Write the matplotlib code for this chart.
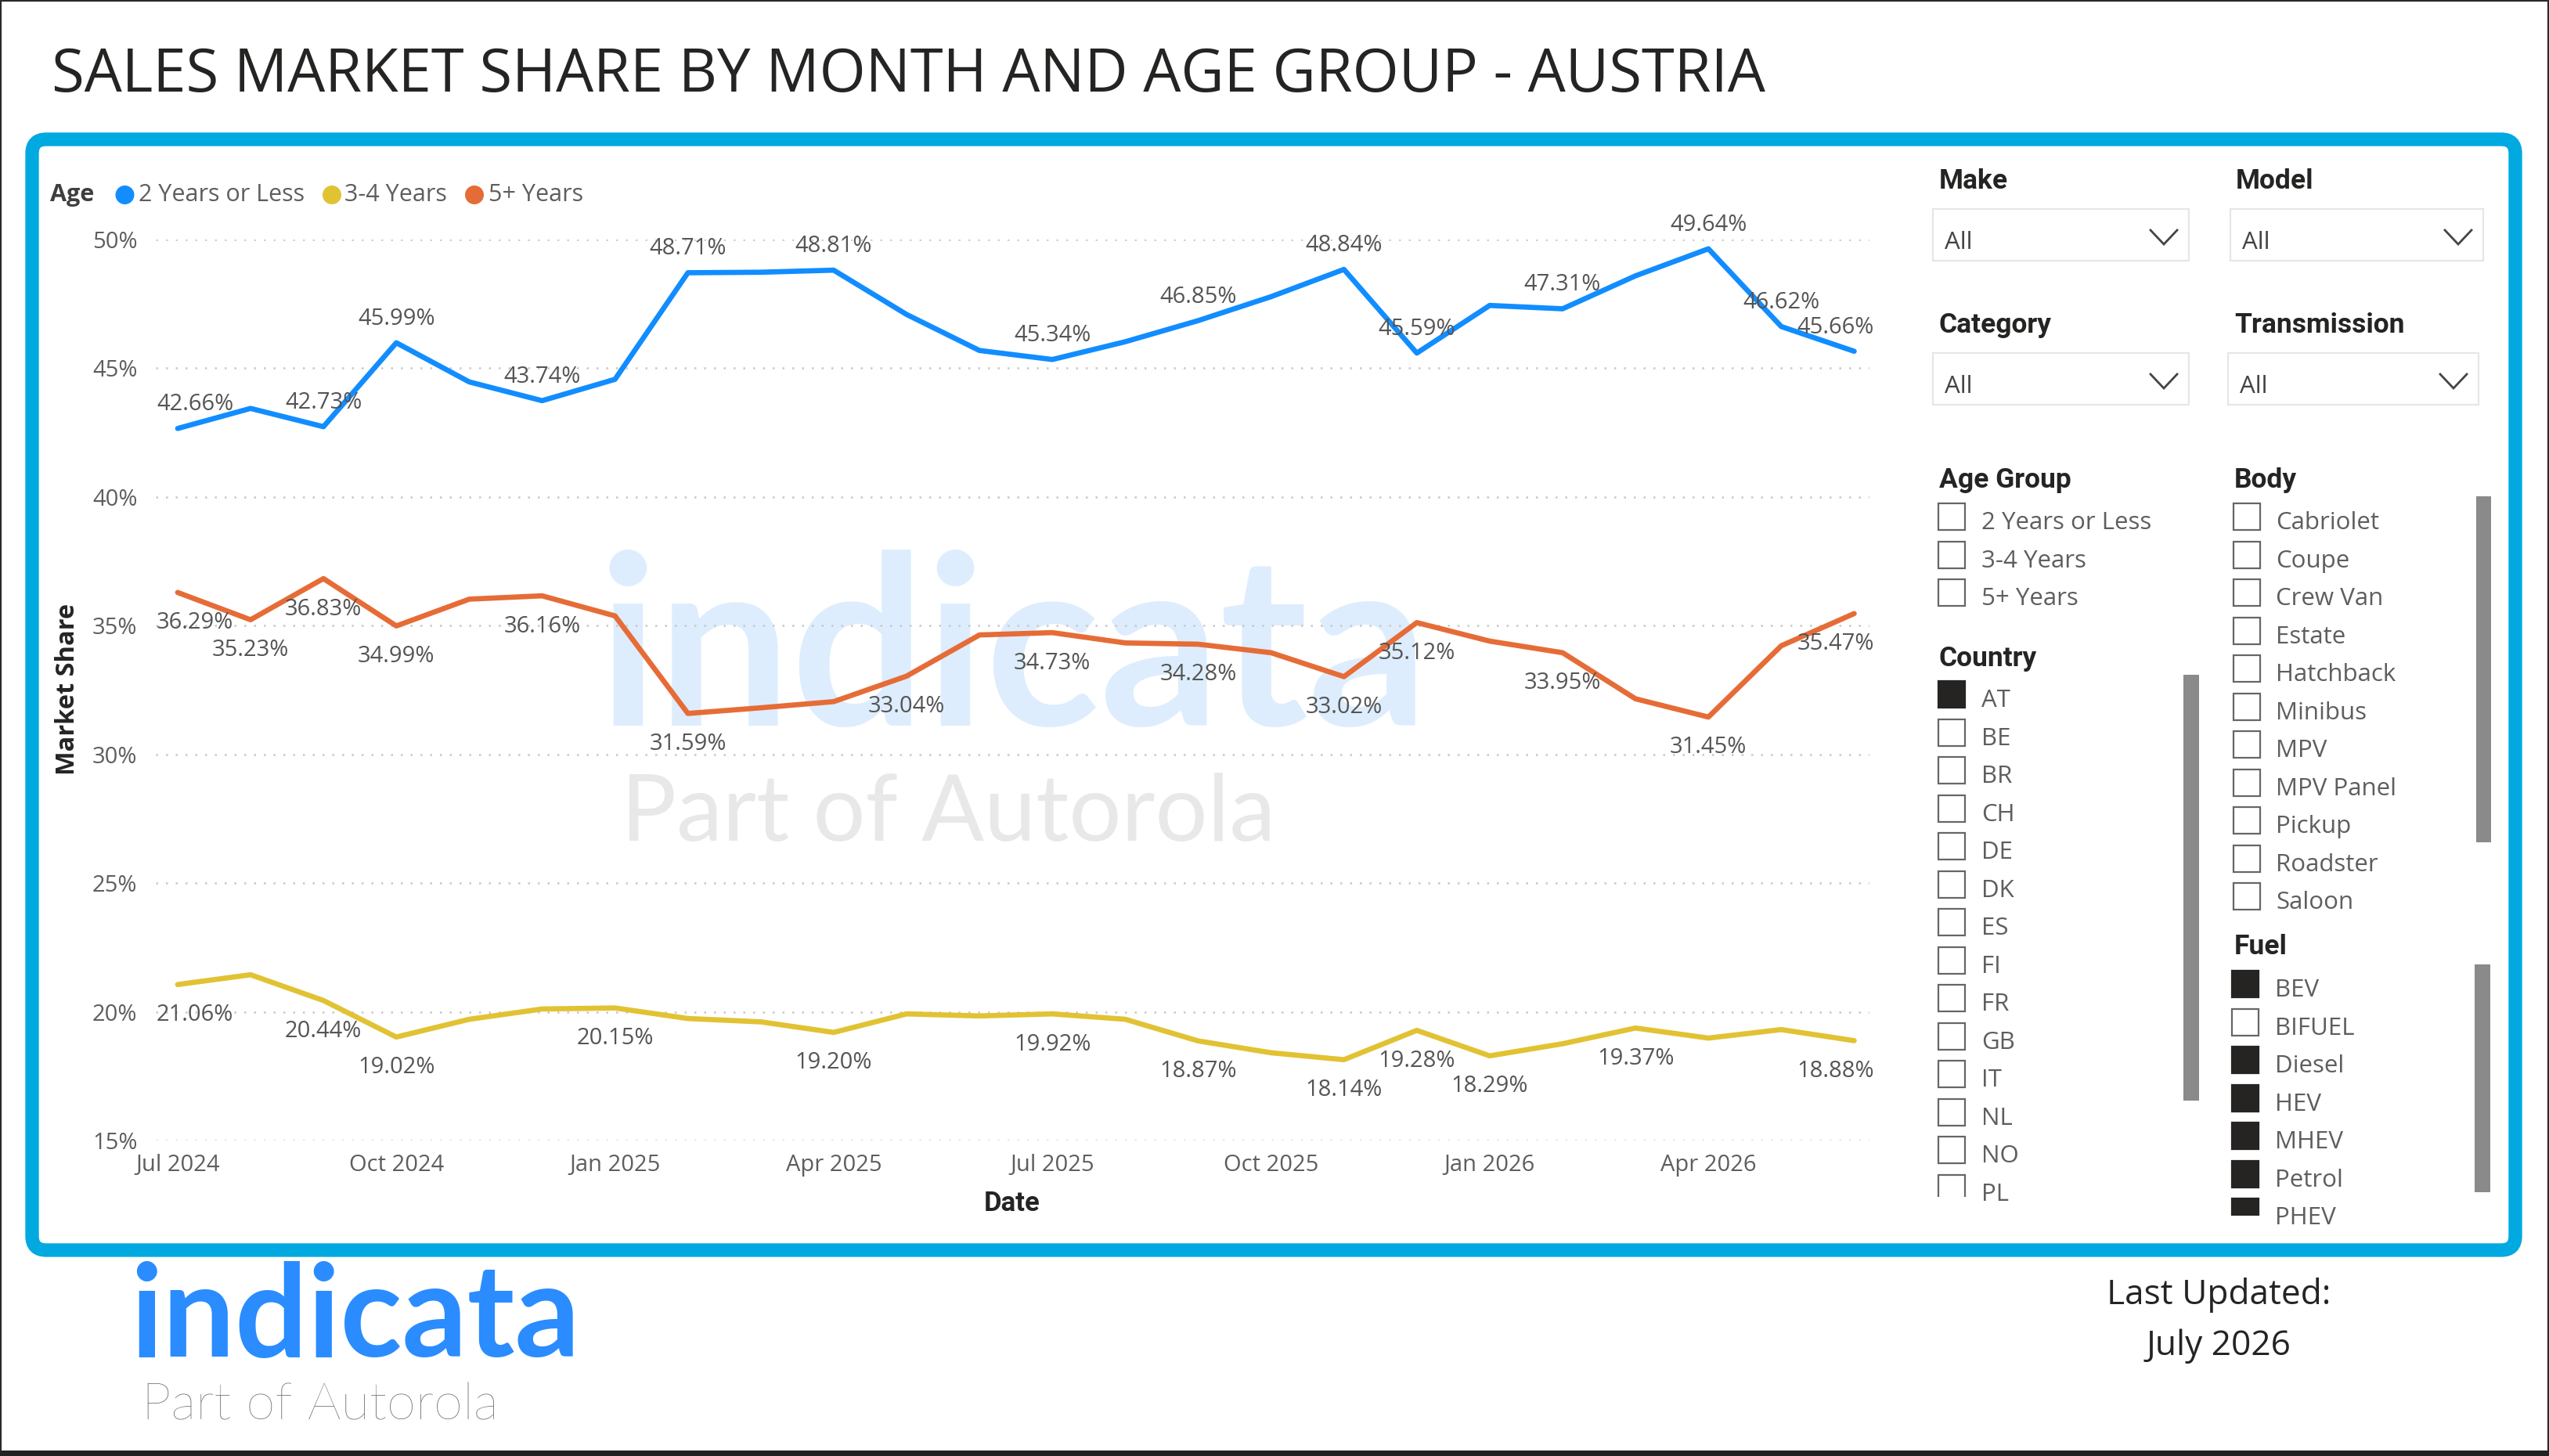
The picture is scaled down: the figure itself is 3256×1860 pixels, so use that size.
import matplotlib
matplotlib.use("Agg")
import matplotlib.pyplot as plt
from matplotlib.patches import FancyBboxPatch, Rectangle, Circle

# ---------------- data ----------------
months = ["Jul 2024", "Aug 2024", "Sep 2024", "Oct 2024", "Nov 2024", "Dec 2024",
          "Jan 2025", "Feb 2025", "Mar 2025", "Apr 2025", "May 2025", "Jun 2025",
          "Jul 2025", "Aug 2025", "Sep 2025", "Oct 2025", "Nov 2025", "Dec 2025",
          "Jan 2026", "Feb 2026", "Mar 2026", "Apr 2026", "May 2026", "Jun 2026"]
x_tick_labels = ["Jul 2024", "Oct 2024", "Jan 2025", "Apr 2025",
                 "Jul 2025", "Oct 2025", "Jan 2026", "Apr 2026"]
y_ticks = [15, 20, 25, 30, 35, 40, 45, 50]
series_names = ["2 Years or Less", "3-4 Years", "5+ Years"]
series_colors = ["#118DFF", "#E1C233", "#E66C37"]

share_2y_or_less = [42.66, 43.44, 42.73, 45.99, 44.47, 43.74, 44.57, 48.71, 48.73, 48.81,
                    47.09, 45.69, 45.34, 46.03, 46.85, 47.78, 48.84, 45.59, 47.44, 47.31,
                    48.59, 49.64, 46.62, 45.66]
share_3_4_years = [21.06, 21.44, 20.44, 19.02, 19.71, 20.11, 20.15, 19.74, 19.61, 19.20,
                   19.92, 19.84, 19.92, 19.71, 18.87, 18.41, 18.14, 19.28, 18.29, 18.76,
                   19.37, 18.98, 19.31, 18.88]
share_5plus_years = [36.29, 35.23, 36.83, 34.99, 36.03, 36.16, 35.38, 31.59, 31.81, 32.05,
                     33.04, 34.64, 34.73, 34.33, 34.28, 33.95, 33.02, 35.12, 34.40, 33.95,
                     32.16, 31.45, 34.22, 35.47]

labelled_2y = [0, 2, 3, 5, 7, 9, 12, 14, 16, 17, 19, 21, 22, 23]
labelled_34 = [0, 2, 3, 6, 9, 12, 14, 16, 17, 18, 20, 23]
labelled_5p = [0, 1, 2, 3, 5, 7, 10, 12, 14, 16, 17, 19, 21, 23]

title = "SALES MARKET SHARE BY MONTH AND AGE GROUP - AUSTRIA"
dropdowns = [("Make", "All"), ("Model", "All"), ("Category", "All"), ("Transmission", "All")]
age_items = series_names
country_items = ["AT", "BE", "BR", "CH", "DE", "DK", "ES", "FI", "FR", "GB", "IT", "NL", "NO", "PL"]
country_checked = ["AT"]
body_items = ["Cabriolet", "Coupe", "Crew Van", "Estate", "Hatchback", "Minibus", "MPV",
              "MPV Panel", "Pickup", "Roadster", "Saloon"]
fuel_items = ["BEV", "BIFUEL", "Diesel", "HEV", "MHEV", "Petrol", "PHEV"]
fuel_checked = ["BEV", "Diesel", "HEV", "MHEV", "Petrol", "PHEV"]
last_updated = "July 2026"

# ---------------- figure ----------------
W, H = 3256, 1860
fig = plt.figure(figsize=(W / 100, H / 100), dpi=100)
fig.patch.set_facecolor("white")
bg = fig.add_axes([0, 0, 1, 1], zorder=0)
bg.set_xlim(0, W)
bg.set_ylim(H, 0)
bg.axis("off")
renderer = fig.canvas.get_renderer()

SANS = ["Open Sans", "DejaVu Sans"]
HEAD = ["Roboto", "DejaVu Sans"]
GREY = "#605E5C"
DARK = "#252423"


def fit_width(t, width):
    w = t.get_window_extent(renderer).width
    t.set_fontsize(t.get_fontsize() * width / w)
    return t


# outer frame
bg.add_patch(Rectangle((0, 0), W, H, fill=False, edgecolor="#2a2a2a", linewidth=3, zorder=10))
bg.add_patch(Rectangle((0, 1853), W, 7, facecolor="#222222", edgecolor="none", zorder=10))

# title
t = bg.text(66, 117, title, fontsize=60, family=SANS, color=DARK, va="baseline", ha="left")
fit_width(t, 2192)

# blue frame
bg.add_patch(FancyBboxPatch((41, 178), 3213 - 41, 1597 - 178,
                            boxstyle="round,pad=0,rounding_size=18",
                            facecolor="white", edgecolor="#00A9E0", linewidth=12.5, zorder=1))

# watermark
t = bg.text(764, 927, "indicata", fontsize=150, family=["Lato", "DejaVu Sans"], weight="bold",
            color="#DDEDFD", va="baseline", ha="left", zorder=2)
fit_width(t, 1062)
t = bg.text(793, 1074, "Part of Autorola", fontsize=90, family=["Lato", "DejaVu Sans"], weight="normal",
            color="#E8E8E8", va="baseline", ha="left", zorder=2)
fit_width(t, 837)

# ---------------- chart ----------------
ax = fig.add_axes([199 / W, 1 - 1457 / H, (2388 - 199) / W, (1457 - 306) / H], zorder=3)
ax.patch.set_alpha(0)
xs = list(range(len(months)))
all_series = [share_2y_or_less, share_3_4_years, share_5plus_years]
for vals, col in zip(all_series, series_colors):
    ax.plot(xs, vals, color=col, linewidth=4.8, solid_capstyle="round",
            solid_joinstyle="round", clip_on=False, zorder=3)

ax.set_xlim(-0.30, 23.21)
ax.set_ylim(15, 50)
ax.set_yticks(y_ticks)
ax.set_yticklabels([f"{v}%" for v in y_ticks])
ax.set_xticks([months.index(m) for m in x_tick_labels])
ax.set_xticklabels(x_tick_labels)
ax.grid(axis="y", color="#C8C8C8", linestyle=(0, (1, 4)), linewidth=1.8)
ax.grid(axis="x", visible=False)
ax.tick_params(length=0, labelsize=21, labelcolor=GREY)
ax.tick_params(axis="y", pad=17)
ax.tick_params(axis="x", pad=12)
for lab in ax.get_xticklabels() + ax.get_yticklabels():
    lab.set_family(SANS)
for s in ax.spines.values():
    s.set_visible(False)

n = len(months)
for vals, idxs, dy in [(share_2y_or_less, labelled_2y, 24.5),
                       (share_3_4_years, labelled_34, -25.5),
                       (share_5plus_years, labelled_5p, -25.5)]:
    for i in idxs:
        dx = 16 if i == 0 else (-17 if i == n - 1 else 0)
        ax.annotate(f"{vals[i]:.2f}%", (xs[i], vals[i]), xytext=(dx, dy),
                    textcoords="offset points", ha="center", va="center_baseline",
                    fontsize=21, color="#555555", family=SANS, zorder=4,
                    annotation_clip=False)

# axis titles
bg.text(95, 880, "Market Share", rotation=90, rotation_mode="anchor", ha="center", va="baseline",
        fontsize=23.5, weight="bold", family=SANS, color=DARK, zorder=4)
bg.text(1293, 1547, "Date", ha="center", va="baseline", fontsize=25, weight="bold",
        family=HEAD, color=DARK, zorder=4)

# legend
bg.text(64, 257, "Age", ha="left", va="baseline", fontsize=22, weight="bold", family=SANS,
        color="#3F3F3F", zorder=4)
for name, col, cx, tx in zip(series_names, series_colors, [159.5, 424, 606], [177, 440, 623.5]):
    bg.add_patch(Circle((cx, 249), 12, facecolor=col, edgecolor="none", zorder=4))
    bg.text(tx, 257, name, ha="left", va="baseline", fontsize=22, family=SANS, color=GREY, zorder=4)

# ---------------- slicers ----------------
headers = [("Make", 2477, 241), ("Model", 2856, 241), ("Category", 2477, 425),
           ("Transmission", 2854, 425), ("Age Group", 2477, 623), ("Body", 2854, 623),
           ("Country", 2477, 851), ("Fuel", 2854, 1219)]
for txt, hx, hy in headers:
    bg.text(hx, hy, txt, ha="left", va="baseline", fontsize=25.5, weight="bold",
            family=HEAD, color=DARK, zorder=4)

boxes = [(2469, 267, 2796, 333), (2849, 267, 3172, 333), (2469, 451, 2796, 517), (2846, 451, 3166, 517)]
for (name, val), (x0, y0, x1, y1) in zip(dropdowns, boxes):
    bg.add_patch(Rectangle((x0, y0), x1 - x0, y1 - y0, facecolor="white", edgecolor="#E6E6E6",
                           linewidth=1.6, zorder=4))
    bg.text(x0 + 15, y0 + 51, val, ha="left", va="baseline", fontsize=22.5, family=SANS,
            color="#444444", zorder=5)
    bg.plot([x1 - 49, x1 - 32, x1 - 15], [y0 + 27, y0 + 45, y0 + 27], color="#444444",
            linewidth=2.0, zorder=5, solid_joinstyle="miter")


def draw_list(xb, xt, base0, items, checked, clip_bottom=None):
    clip = None
    if clip_bottom is not None:
        clip = Rectangle((xb - 10, 0), 600, clip_bottom, transform=bg.transData)
    for k, item in enumerate(items):
        b = base0 + k * 48.5
        on = item in checked
        r = Rectangle((xb, b - 33), 34, 34, facecolor=DARK if on else "none",
                      edgecolor=DARK if on else "#666666", linewidth=1.6, zorder=5)
        bg.add_patch(r)
        tt = bg.text(xt, b, item, ha="left", va="baseline", fontsize=22.5, family=SANS,
                     color=GREY, zorder=5)
        if clip is not None:
            r.set_clip_path(clip)
            tt.set_clip_path(clip)


draw_list(2476, 2531, 676, age_items, [])
draw_list(2476, 2531, 903, country_items, country_checked, clip_bottom=1529)
draw_list(2853, 2907, 676, body_items, [])
draw_list(2851, 2906, 1273, fuel_items, fuel_checked, clip_bottom=1553)

for (sx, sy, sw, sh) in [(2789, 862, 20, 544), (3163, 634, 19, 442), (3161, 1232, 20, 291)]:
    bg.add_patch(Rectangle((sx, sy), sw, sh, facecolor="#8A8A8A", edgecolor="none", zorder=5))

# ---------------- footer ----------------
t = bg.text(166, 1733, "indicata", fontsize=80, family=["Lato", "DejaVu Sans"], weight="bold",
            color="#2A8CFF", va="baseline", ha="left", zorder=4)
fit_width(t, 575)
t = bg.text(181, 1813, "Part of Autorola", fontsize=40, family=["Lato", "DejaVu Sans"], weight="light",
            color="#666666", va="baseline", ha="left", zorder=4)
fit_width(t, 456)
t1 = bg.text(2834, 1666, "Last Updated:", fontsize=30, family=SANS, color=DARK,
             ha="center", va="baseline", zorder=4)
fit_width(t1, 287)
bg.text(2834, 1731, last_updated, fontsize=t1.get_fontsize(), family=SANS, color=DARK,
        ha="center", va="baseline", zorder=4)

fig.savefig("out.png", dpi=100, facecolor="white")
